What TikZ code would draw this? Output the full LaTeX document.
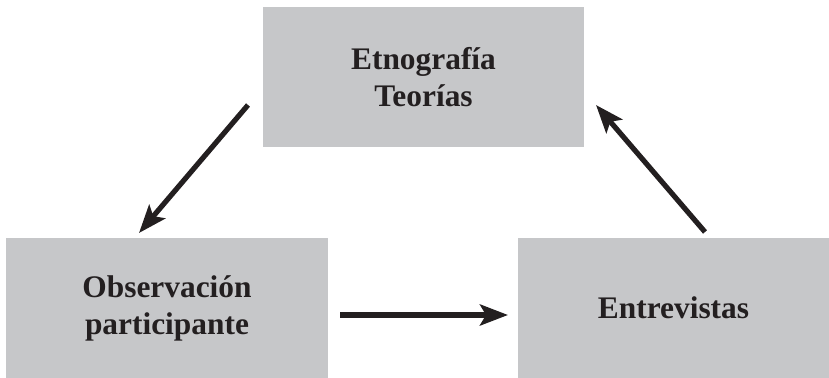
\documentclass[tikz,border=0pt]{standalone}
\usepackage{fontspec}
\setmainfont{Liberation Serif}
\usetikzlibrary{arrows.meta}
\definecolor{boxgray}{HTML}{C6C7C9}
\definecolor{arrowblack}{HTML}{231F20}
\begin{document}
\begin{tikzpicture}[x=0.5pt,y=-0.5pt,
  graybox/.style={fill=boxgray,draw=none,inner sep=0pt,outer sep=0pt,
    align=center,font=\fontsize{15.7}{18.5}\selectfont\bfseries,text=arrowblack},
  flow/.style={draw=arrowblack,line width=2.6pt,
    -{Stealth[length=14pt,width=10.5pt,inset=3pt]}}]
\useasboundingbox (0,0) rectangle (829,378);
\node[graybox,minimum width=160.5pt,minimum height=70pt] (top) at (423.5,77) {Etnografía\\Teorías};
\node[graybox,minimum width=161pt,minimum height=70pt] (obs) at (167,308) {Observación\\participante};
\node[graybox,minimum width=155.5pt,minimum height=70pt] (ent) at (673.5,308) {Entrevistas};
\coordinate (a1s) at (248,105);
\coordinate (a1e) at (139,233);
\coordinate (a2s) at (340,315);
\coordinate (a2e) at (508,315);
\coordinate (a3s) at (705,232);
\coordinate (a3e) at (596,105);
\draw[flow] (a1s) -- (a1e);
\draw[flow] (a2s) -- (a2e);
\draw[flow] (a3s) -- (a3e);
\end{tikzpicture}
\end{document}
